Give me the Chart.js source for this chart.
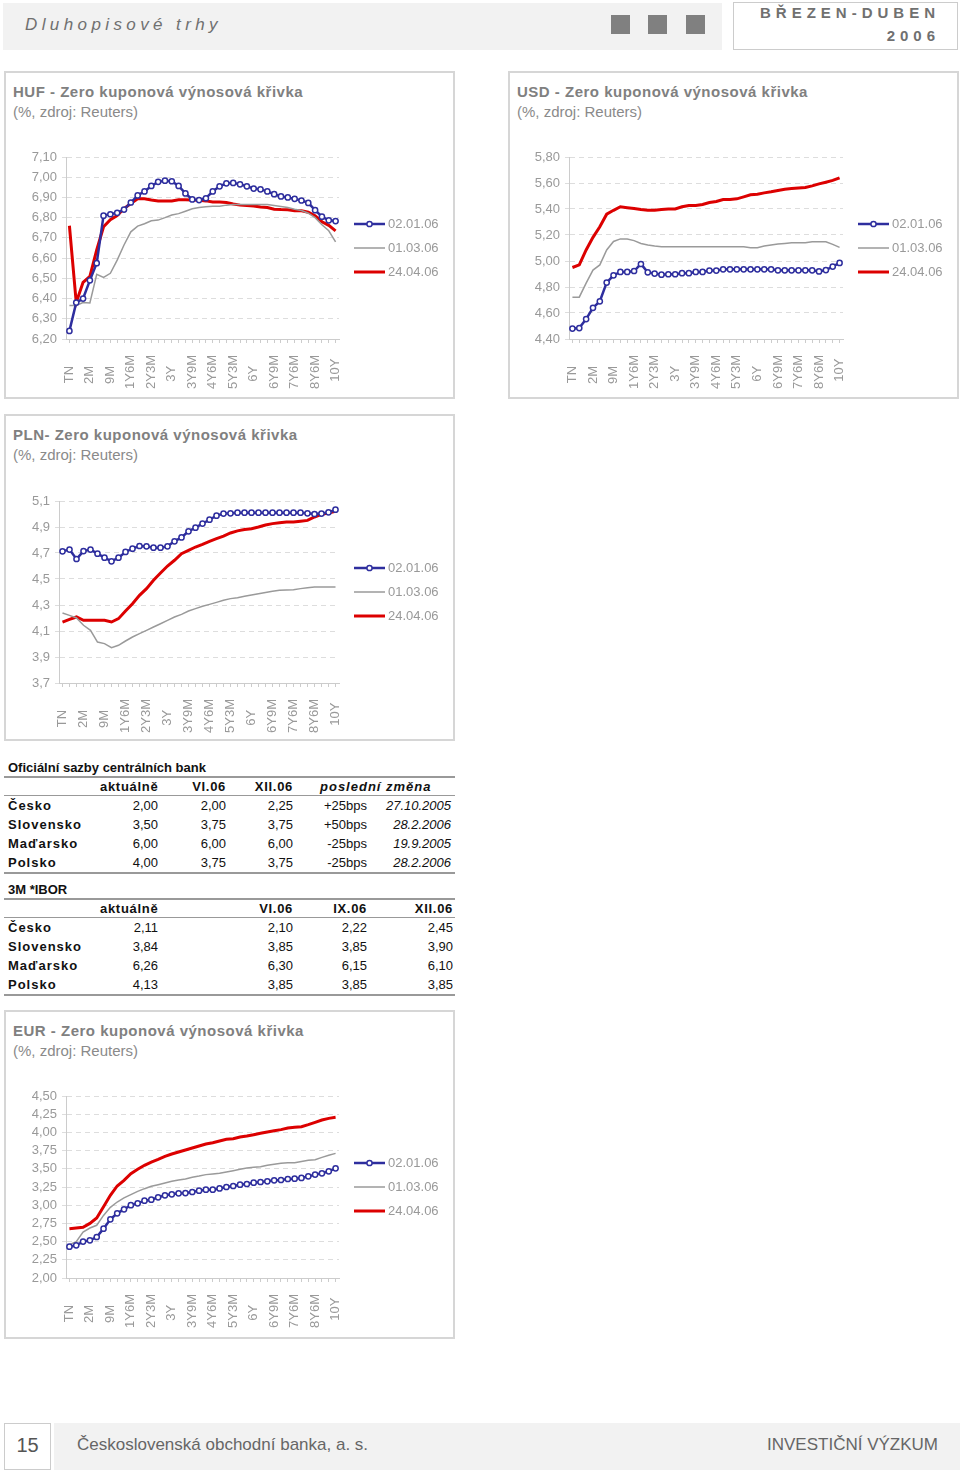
<!DOCTYPE html>
<html lang="cs">
<head>
<meta charset="utf-8">
<title>Dluhopisové trhy</title>
<script src="https://cdn.jsdelivr.net/npm/chart.js@4.4.1/dist/chart.umd.min.js"></script>
<style>
body { margin:0; width:960px; height:1471px; position:relative; background:#fff; font-family:"Liberation Sans", Arial, sans-serif; overflow:hidden; }
.abs { position:absolute; }
.band { background:#f2f2f2; }
.sq { position:absolute; top:15px; width:19px; height:19px; background:#808080; }
.box { position:absolute; border:2px solid #d6d6d6; box-sizing:border-box; }
.ttl { position:absolute; left:7px; font-size:15px; font-weight:bold; color:#808080; letter-spacing:0.5px; white-space:nowrap; line-height:17px; }
.sub { position:absolute; left:7px; font-size:15px; color:#8a8a8a; white-space:nowrap; line-height:18px; }
canvas { position:absolute; }
table { border-collapse:collapse; font-size:13px; color:#111; table-layout:fixed; }
td { padding:0; height:19px; text-align:right; white-space:nowrap; }
td.c { text-align:left; font-weight:bold; letter-spacing:1px; padding-left:4px; }
tr.h td { font-weight:bold; height:17px; border-bottom:1px solid #999; letter-spacing:0.7px; }
tr.last td { border-bottom:2px solid #999; }
.tt { font-size:13px; font-weight:bold; color:#111; padding-left:4px; height:17px; line-height:17px; border-bottom:2px solid #999; }
i { font-style:italic; }
</style>
</head>
<body>

<!-- header -->
<div class="abs band" style="left:3px; top:3px; width:719px; height:47px;"></div>
<div class="abs" style="left:25px; top:14px; font-size:17px; font-style:italic; color:#707070; letter-spacing:4.4px; line-height:22px;">Dluhopisové trhy</div>
<div class="sq" style="left:611px;"></div>
<div class="sq" style="left:648px;"></div>
<div class="sq" style="left:686px;"></div>
<div class="abs" style="left:733px; top:2px; width:225px; height:48px; border:1px solid #ccc; box-sizing:border-box; background:#fff;"></div>
<div class="abs" style="left:733px; top:4px; width:207px; text-align:right; font-size:15px; font-weight:bold; color:#707070; letter-spacing:5px; line-height:18px;">BŘEZEN-DUBEN<br><span style="line-height:27px;">2006</span></div>

<!-- HUF -->
<div class="box" style="left:4px; top:71px; width:451px; height:328px;">
  <div class="ttl" style="top:10px;">HUF - Zero kuponová výnosová křivka</div>
  <div class="sub" style="top:30px;">(%, zdroj: Reuters)</div>
</div>
<canvas id="hufChart" width="440" height="255" style="left:10px; top:140px;"></canvas>

<!-- USD -->
<div class="box" style="left:508px; top:71px; width:451px; height:328px;">
  <div class="ttl" style="top:10px;">USD - Zero kuponová výnosová křivka</div>
  <div class="sub" style="top:30px;">(%, zdroj: Reuters)</div>
</div>
<canvas id="usdChart" width="440" height="255" style="left:514px; top:140px;"></canvas>

<!-- PLN -->
<div class="box" style="left:4px; top:414px; width:451px; height:327px;">
  <div class="ttl" style="top:10px;">PLN- Zero kuponová výnosová křivka</div>
  <div class="sub" style="top:30px;">(%, zdroj: Reuters)</div>
</div>
<canvas id="plnChart" width="440" height="255" style="left:10px; top:484px;"></canvas>

<!-- tables -->
<div class="abs" style="left:4px; top:759px; width:451px;">
  <div class="tt">Oficiální sazby centrálních bank</div>
  <table style="width:451px;">
    <colgroup><col style="width:96px"><col style="width:58px"><col style="width:68px"><col style="width:67px"><col style="width:74px"><col style="width:88px"></colgroup>
    <tr class="h"><td></td><td>aktuálně</td><td>VI.06</td><td>XII.06</td><td colspan="2" style="text-align:left; padding-left:27px; letter-spacing:1px;"><i>poslední změna</i></td></tr>
    <tr><td class="c">Česko</td><td>2,00</td><td>2,00</td><td>2,25</td><td>+25bps</td><td style="padding-right:4px;"><i>27.10.2005</i></td></tr>
    <tr><td class="c">Slovensko</td><td>3,50</td><td>3,75</td><td>3,75</td><td>+50bps</td><td style="padding-right:4px;"><i>28.2.2006</i></td></tr>
    <tr><td class="c">Maďarsko</td><td>6,00</td><td>6,00</td><td>6,00</td><td>-25bps</td><td style="padding-right:4px;"><i>19.9.2005</i></td></tr>
    <tr class="last"><td class="c">Polsko</td><td>4,00</td><td>3,75</td><td>3,75</td><td>-25bps</td><td style="padding-right:4px;"><i>28.2.2006</i></td></tr>
  </table>
  <div class="tt" style="margin-top:7px;">3M *IBOR</div>
  <table style="width:451px;">
    <colgroup><col style="width:96px"><col style="width:58px"><col style="width:68px"><col style="width:67px"><col style="width:74px"><col style="width:88px"></colgroup>
    <tr class="h"><td></td><td>aktuálně</td><td></td><td>VI.06</td><td>IX.06</td><td style="padding-right:2px;">XII.06</td></tr>
    <tr><td class="c">Česko</td><td>2,11</td><td></td><td>2,10</td><td>2,22</td><td style="padding-right:2px;">2,45</td></tr>
    <tr><td class="c">Slovensko</td><td>3,84</td><td></td><td>3,85</td><td>3,85</td><td style="padding-right:2px;">3,90</td></tr>
    <tr><td class="c">Maďarsko</td><td>6,26</td><td></td><td>6,30</td><td>6,15</td><td style="padding-right:2px;">6,10</td></tr>
    <tr class="last"><td class="c">Polsko</td><td>4,13</td><td></td><td>3,85</td><td>3,85</td><td style="padding-right:2px;">3,85</td></tr>
  </table>
</div>

<!-- EUR -->
<div class="box" style="left:4px; top:1010px; width:451px; height:329px;">
  <div class="ttl" style="top:10px;">EUR - Zero kuponová výnosová křivka</div>
  <div class="sub" style="top:30px;">(%, zdroj: Reuters)</div>
</div>
<canvas id="eurChart" width="440" height="255" style="left:10px; top:1079px;"></canvas>

<!-- footer -->
<div class="abs" style="left:4px; top:1423px; width:47px; height:47px; border:1px solid #ccc; box-sizing:border-box; background:#fff; text-align:center; line-height:42px; font-size:20px; color:#555;">15</div>
<div class="abs band" style="left:54px; top:1423px; width:906px; height:47px;"></div>
<div class="abs" style="left:77px; top:1434px; font-size:17px; color:#666; line-height:22px;">Československá obchodní banka, a. s.</div>
<div class="abs" style="right:22px; top:1434px; font-size:17px; color:#666; line-height:22px;">INVESTIČNÍ VÝZKUM</div>

<script>
// maturities on the x axis (every third one is labelled)
const maturities = ['TN','1W','1M','2M','3M','6M','9M','1Y','1Y3M','1Y6M','1Y9M','2Y','2Y3M','2Y6M','2Y9M','3Y',
    '3Y3M','3Y6M','3Y9M','4Y','4Y3M','4Y6M','4Y9M','5Y','5Y3M','5Y6M','5Y9M','6Y','6Y3M','6Y6M','6Y9M','7Y',
    '7Y3M','7Y6M','7Y9M','8Y','8Y6M','9Y','9Y6M','10Y'];
const curveDates = ['02.01.06', '01.03.06', '24.04.06'];

// HUF curves
const hufJan = [6.24,6.38,6.40,6.49,6.575,6.81,6.817,6.824,6.84,6.875,6.91,6.93,6.957,6.977,6.983,6.98,6.957,6.92,6.89,6.887,
    6.896,6.93,6.955,6.97,6.972,6.965,6.955,6.944,6.94,6.93,6.916,6.905,6.90,6.893,6.885,6.873,6.837,6.805,6.787,6.783];
const hufMar = [6.366,6.366,6.38,6.378,6.52,6.505,6.525,6.59,6.665,6.73,6.758,6.77,6.785,6.788,6.80,6.813,6.82,6.832,6.844,6.85,
    6.854,6.857,6.857,6.862,6.865,6.865,6.865,6.865,6.865,6.865,6.86,6.855,6.85,6.842,6.835,6.822,6.80,6.765,6.735,6.68];
const hufApr = [6.76,6.38,6.48,6.51,6.64,6.755,6.79,6.81,6.845,6.87,6.893,6.893,6.887,6.883,6.883,6.883,6.888,6.888,6.887,6.886,
    6.883,6.877,6.877,6.875,6.868,6.862,6.86,6.858,6.853,6.85,6.842,6.84,6.839,6.834,6.834,6.827,6.81,6.78,6.762,6.735];

// USD curves
const usdJan = [4.48,4.484,4.553,4.64,4.69,4.834,4.89,4.916,4.916,4.923,4.977,4.913,4.903,4.895,4.898,4.898,4.906,4.906,4.916,4.916,
    4.926,4.926,4.936,4.936,4.936,4.936,4.936,4.936,4.936,4.936,4.928,4.928,4.928,4.928,4.928,4.928,4.92,4.93,4.957,4.985];
const usdMar = [4.722,4.722,4.83,4.93,4.97,5.085,5.15,5.17,5.17,5.157,5.135,5.123,5.115,5.11,5.11,5.11,5.11,5.11,5.11,5.11,
    5.11,5.11,5.11,5.11,5.11,5.11,5.102,5.102,5.115,5.123,5.13,5.135,5.14,5.14,5.14,5.148,5.148,5.148,5.128,5.105];
const usdApr = [4.95,4.97,5.085,5.182,5.263,5.36,5.39,5.417,5.41,5.404,5.396,5.39,5.39,5.396,5.40,5.40,5.417,5.427,5.427,5.435,
    5.45,5.458,5.473,5.473,5.478,5.493,5.509,5.514,5.524,5.532,5.542,5.552,5.557,5.562,5.565,5.578,5.593,5.606,5.62,5.64];

// PLN curves
const plnJan = [4.713,4.726,4.654,4.715,4.726,4.695,4.664,4.636,4.664,4.708,4.733,4.754,4.751,4.741,4.741,4.751,4.79,4.82,4.867,4.895,
    4.926,4.956,4.987,5.003,5.005,5.01,5.01,5.01,5.01,5.01,5.01,5.01,5.01,5.01,5.01,5.005,5.0,5.003,5.013,5.033];
const plnMar = [4.238,4.22,4.2,4.144,4.105,4.015,4.003,3.972,3.99,4.023,4.054,4.08,4.105,4.131,4.156,4.182,4.208,4.228,4.254,4.272,
    4.29,4.305,4.32,4.336,4.349,4.356,4.367,4.377,4.387,4.397,4.405,4.413,4.415,4.418,4.426,4.433,4.438,4.438,4.438,4.438];
const plnApr = [4.169,4.19,4.208,4.182,4.182,4.182,4.182,4.169,4.195,4.254,4.31,4.374,4.426,4.49,4.546,4.60,4.644,4.695,4.72,4.746,
    4.767,4.79,4.81,4.83,4.854,4.87,4.88,4.887,4.90,4.915,4.926,4.933,4.938,4.938,4.944,4.951,4.977,4.997,5.008,5.02];

// EUR curves
const eurJan = [2.43,2.449,2.50,2.517,2.563,2.678,2.806,2.888,2.943,3.0,3.026,3.062,3.076,3.108,3.136,3.149,3.163,3.167,3.181,3.20,
    3.213,3.213,3.23,3.25,3.264,3.282,3.291,3.31,3.319,3.328,3.342,3.346,3.36,3.365,3.374,3.396,3.42,3.438,3.465,3.506];
const eurMar = [2.458,2.50,2.63,2.687,2.724,2.86,2.97,3.044,3.10,3.145,3.19,3.227,3.259,3.282,3.305,3.328,3.346,3.36,3.383,3.40,
    3.42,3.429,3.438,3.456,3.474,3.493,3.51,3.52,3.529,3.548,3.561,3.575,3.584,3.584,3.60,3.616,3.625,3.657,3.685,3.712];
const eurApr = [2.678,2.687,2.696,2.75,2.824,2.98,3.136,3.264,3.342,3.433,3.493,3.548,3.593,3.63,3.671,3.703,3.73,3.758,3.786,3.813,
    3.84,3.859,3.882,3.905,3.914,3.937,3.95,3.969,3.987,4.006,4.024,4.038,4.06,4.07,4.079,4.106,4.138,4.17,4.193,4.207];

Chart.defaults.font.family = '"Liberation Sans", Arial, sans-serif';

const blueColor = '#2e2e9e';
const greyColor = '#9a9a9a';
const redColor = '#dc0000';

// legend drawn to the right of the plot
const sideLegend = {
    id: 'sideLegend',
    afterDraw(chart) {
        const { ctx, chartArea } = chart;
        const mid = (chartArea.top + chartArea.bottom) / 2;
        ctx.save();
        chart.data.datasets.forEach((ds, i) => {
            const y = Math.round(mid + (i - 1) * 23.7);
            const x0 = chartArea.right + 15, x1 = x0 + 31;
            ctx.strokeStyle = ds.borderColor;
            ctx.lineWidth = ds.borderWidth;
            ctx.beginPath(); ctx.moveTo(x0, y); ctx.lineTo(x1, y); ctx.stroke();
            if (ds.pointRadius) {
                ctx.beginPath();
                ctx.arc((x0 + x1) / 2, y, ds.pointRadius, 0, Math.PI * 2);
                ctx.fillStyle = '#fff'; ctx.fill();
                ctx.lineWidth = ds.pointBorderWidth; ctx.stroke();
            }
            ctx.fillStyle = '#999';
            ctx.font = '13px "Liberation Sans", Arial, sans-serif';
            ctx.textBaseline = 'middle';
            ctx.textAlign = 'left';
            ctx.fillText(ds.label, x1 + 3, y);
        });
        ctx.restore();
    }
};

// pad short labels so the rotated text sits roughly centred
function padLabel(label) {
    return label + ' '.repeat(Math.round((4 - label.length) * 1.25));
}

function makeChart(id, jan, mar, apr, yMin, yMax, yStep, decimals, yWidth) {
    const ctx = document.getElementById(id).getContext('2d');
    return new Chart(ctx, {
        type: 'line',
        data: {
            labels: maturities,
            datasets: [
                { label: curveDates[0], data: jan, borderColor: blueColor, borderWidth: 2.5, pointRadius: 2.6,
                  pointBackgroundColor: '#fff', pointBorderColor: blueColor, pointBorderWidth: 1.5 },
                { label: curveDates[1], data: mar, borderColor: greyColor, borderWidth: 1.5, pointRadius: 0 },
                { label: curveDates[2], data: apr, borderColor: redColor, borderWidth: 3, pointRadius: 0 }
            ]
        },
        options: {
            responsive: false,
            animation: false,
            layout: { padding: { top: 17, right: 111, bottom: 0, left: 0 } },
            plugins: { legend: { display: false }, tooltip: { enabled: false } },
            scales: {
                x: {
                    offset: true,
                    grid: { drawOnChartArea: false, tickLength: 4, color: '#cccccc' },
                    border: { color: '#cccccc' },
                    ticks: {
                        autoSkip: false, minRotation: 90, maxRotation: 90, padding: 12,
                        color: '#999', font: { size: 13 },
                        callback: (v, i) => i % 3 === 0 ? padLabel(maturities[i]) : ''
                    },
                    afterFit: s => { s.height = 56; }
                },
                y: {
                    min: yMin, max: yMax,
                    grid: { color: '#dddddd', tickLength: 4 },
                    border: { color: '#cccccc', dash: [5, 4] },
                    ticks: {
                        autoSkip: false, stepSize: yStep, padding: 5, color: '#999', font: { size: 13 },
                        callback: v => v.toFixed(decimals).replace('.', ',')
                    },
                    afterFit: s => { s.width = yWidth; }
                }
            }
        },
        plugins: [sideLegend]
    });
}

makeChart('hufChart', hufJan, hufMar, hufApr, 6.2, 7.1, 0.1, 2, 56);
makeChart('usdChart', usdJan, usdMar, usdApr, 4.4, 5.8, 0.2, 2, 55);
makeChart('plnChart', plnJan, plnMar, plnApr, 3.7, 5.1, 0.2, 1, 49);
makeChart('eurChart', eurJan, eurMar, eurApr, 2.0, 4.5, 0.25, 2, 56);
</script>
</body>
</html>
